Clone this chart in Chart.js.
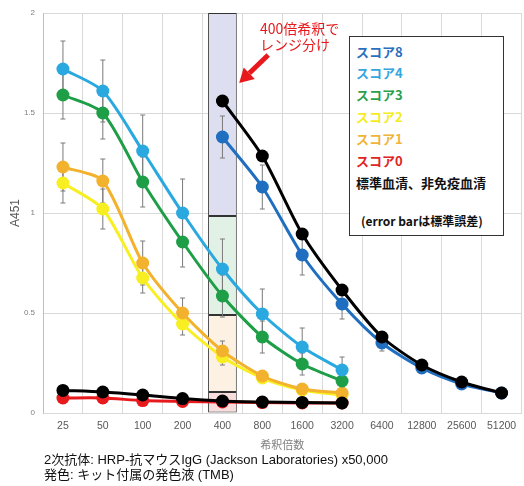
<!DOCTYPE html>
<html>
<head>
<meta charset="utf-8">
<script src="https://cdn.jsdelivr.net/npm/chart.js@4.4.1/dist/chart.umd.min.js"></script>
<style>
  html,body{margin:0;padding:0;background:#fff;}
  #wrap{position:relative;width:524px;height:486px;overflow:hidden;font-family:"Liberation Sans","Noto Sans CJK JP",sans-serif;}
  #c{position:absolute;left:0;top:0;}
  .abs{position:absolute;white-space:nowrap;}
  #legend{position:absolute;left:349px;top:36px;width:153px;height:198px;border:1.5px solid #333;background:#fff;
    font-family:"Noto Sans CJK JP",sans-serif;font-weight:bold;font-size:13px;}
  #legend div{position:absolute;left:6px;line-height:16px;white-space:nowrap;}
  #anno{left:260px;top:20px;color:#e8191c;font-size:14px;line-height:16px;font-family:"Noto Sans CJK JP",sans-serif;}
  #notes{left:44px;top:452px;font-size:13px;line-height:15px;color:#111;}
</style>
</head>
<body>
<div id="wrap">
  <canvas id="c" width="528" height="486" style="width:528px;height:486px"></canvas>
  <div id="anno" class="abs">400倍希釈で<br>レンジ分け</div>
  <div id="legend">
    <div style="top:7px;color:#2a6fbd">スコア8</div>
    <div style="top:28px;color:#35a7de">スコア4</div>
    <div style="top:50px;color:#2a9f4c">スコア3</div>
    <div style="top:72px;color:#f4ec22">スコア2</div>
    <div style="top:94px;color:#f0b43a">スコア1</div>
    <div style="top:116px;color:#e02424">スコア0</div>
    <div style="top:138px;color:#111">標準血清、非免疫血清</div>
    <div style="top:176px;left:11px;color:#111;font-size:12px">(error barは標準誤差)</div>
  </div>
  <div id="notes" class="abs">2次抗体: HRP-抗マウスIgG (Jackson Laboratories) x50,000<br>発色: キット付属の発色液 (TMB)</div>
</div>
<script>
const labels = ['25','50','100','200','400','800','1600','3200','6400','12800','25600','51200'];
const yTicks = [0, 0.5, 1, 1.5, 2];

const score8    = [null,null,null,null,1.38,1.13,0.79,0.545,0.35,0.225,0.145,0.10];
const score8Err = [null,null,null,null,0.105,0.11,0.10,0.075,0.04,0.02,0.01,0];
const score4    = [1.72,1.61,1.31,1.00,0.72,0.495,0.33,0.215];
const score4Err = [0.14,0.155,0.18,0.17,0.15,0.125,0.095,0.065];
const score3    = [1.59,1.50,1.155,0.855,0.585,0.38,0.245,0.16];
const score3Err = [0.12,0.13,0.125,0.125,0.105,0.08,0.055,0.03];
const score2    = [1.15,1.02,0.675,0.445,0.28,0.175,0.115,0.09];
const score2Err = [0.10,0.10,0.075,0.055,0.04,0.015,0.01,0.01];
const score1    = [1.23,1.16,0.75,0.50,0.31,0.185,0.12,0.10];
const score1Err = [0.12,0.11,0.11,0.075,0.05,0.02,0.015,0.01];
const score0    = [0.075,0.075,0.062,0.058,0.055,0.052,0.05,0.05];
const standardSerum = [null,null,null,null,1.56,1.285,0.895,0.615,0.38,0.24,0.155,0.10];
const nonImmuneSerum = [0.113,0.105,0.09,0.072,0.06,0.055,0.053,0.05];

// range boxes at 400x dilution (floating bars)
const rangeCol = 4;
const rangeBands = [[0.985,2.0],[0.49,0.985],[0.105,0.49],[0,0.105]];
const rangeColors = ['#dddff0','#e2f1e6','#fdf1e4','#f8dddd'];

function col(v){ return labels.map((_,i)=> i===rangeCol ? v : null); }

const barSets = rangeBands.map((b,k)=>({
  type:'bar', data: col(b), backgroundColor: rangeColors[k], borderColor:'#333', borderWidth:1,
  borderSkipped:false, grouped:false, barPercentage:0.72, categoryPercentage:1, order: 13-k
}));

function line(data, color, order, err){
  return {type:'line', data, borderColor:color, backgroundColor:color, pointBackgroundColor:color,
    pointBorderWidth:0, pointRadius:6.5, borderWidth:3, tension:0.25, order, errors:err, spanGaps:false};
}
const lineSets = [
  line(score0,'#e8191c',7,null),
  line(score2,'#f7ef22',6,score2Err),
  line(score1,'#f3b22e',5,score1Err),
  line(score3,'#1f9e48',4,score3Err),
  line(score4,'#2aa8e0',3,score4Err),
  line(score8,'#1f6ebf',2,score8Err),
  line(nonImmuneSerum,'#000',1,null),
  line(standardSerum,'#000',0,null)
];

const errorBarPlugin = {
  id:'errbars',
  afterDatasetDraw(chart, args){
    if (chart.data.datasets[args.index].order !== 10) return;
    const ctx = chart.ctx, xs = chart.scales.x, ys = chart.scales.y;
    ctx.save();
    ctx.strokeStyle = '#7a7a7a'; ctx.lineWidth = 1;
    chart.data.datasets.forEach(ds=>{
      if(!ds.errors) return;
      ds.data.forEach((v,i)=>{
        const e = ds.errors[i];
        if(v==null || !e) return;
        const x = xs.getPixelForValue(i);
        const y1 = ys.getPixelForValue(v+e), y2 = ys.getPixelForValue(v-e);
        ctx.beginPath();
        ctx.moveTo(x,y1); ctx.lineTo(x,y2);
        ctx.moveTo(x-2.5,y1); ctx.lineTo(x+2.5,y1);
        ctx.moveTo(x-2.5,y2); ctx.lineTo(x+2.5,y2);
        ctx.stroke();
      });
    });
    ctx.restore();
  }
};

const arrowPlugin = {
  id:'arrow',
  afterDraw(chart){
    const ctx = chart.ctx, xs = chart.scales.x, ys = chart.scales.y;
    const w = xs.getPixelForValue(1) - xs.getPixelForValue(0);
    const tipX = xs.getPixelForValue(rangeCol) + w*0.42, tipY = ys.getPixelForValue(1.65);
    const tailX = tipX + 29, tailY = ys.getPixelForValue(1.79);
    const ang = Math.atan2(tipY-tailY, tipX-tailX);
    const hl = 14, hw = 8;
    const bx = tipX - hl*Math.cos(ang), by = tipY - hl*Math.sin(ang);
    ctx.save();
    ctx.strokeStyle = '#e8191c'; ctx.fillStyle = '#e8191c'; ctx.lineWidth = 5;
    ctx.beginPath(); ctx.moveTo(tailX,tailY); ctx.lineTo(bx,by); ctx.stroke();
    ctx.beginPath();
    ctx.moveTo(tipX,tipY);
    ctx.lineTo(bx + hw*Math.sin(ang), by - hw*Math.cos(ang));
    ctx.lineTo(bx - hw*Math.sin(ang), by + hw*Math.cos(ang));
    ctx.closePath(); ctx.fill();
    ctx.restore();
  }
};

new Chart(document.getElementById('c'), {
  type:'line',
  data:{ labels, datasets:[...barSets, ...lineSets] },
  options:{
    responsive:false, animation:false,
    layout:{ padding:{ top:13, right:0, bottom:33, left:0 } },
    plugins:{ legend:{display:false}, tooltip:{enabled:false} },
    scales:{
      x:{
        offset:true,
        grid:{ offset:true, color:'#d9d9d9', drawTicks:false },
        border:{ color:'#d9d9d9' },
        ticks:{ color:'#595959', font:{ size:10.5, family:'"Liberation Sans", sans-serif' }, padding:7, maxRotation:0, autoSkip:false },
        title:{ display:true, text:'希釈倍数', color:'#808080', font:{ size:11, family:'"Noto Sans CJK JP", sans-serif' }, padding:{top:0,bottom:2} },
        afterFit(s){ s.height = 40; }
      },
      y:{
        min:0, max:2,
        afterBuildTicks(s){ s.ticks = yTicks.map(v=>({value:v})); },
        grid:{ color:'#d9d9d9', drawTicks:false },
        border:{ color:'#bfbfbf' },
        ticks:{ color:'#7f7f7f', font:{ size:8, family:'"Liberation Sans", sans-serif' }, padding:8,
          callback:(v)=>String(v) },
        title:{ display:true, text:'A451', color:'#595959', font:{ size:12, family:'"Liberation Sans", sans-serif' }, padding:{top:8,bottom:0} },
        afterFit(s){ s.width = 43; }
      }
    }
  },
  plugins:[errorBarPlugin, arrowPlugin]
});
</script>
</body>
</html>
